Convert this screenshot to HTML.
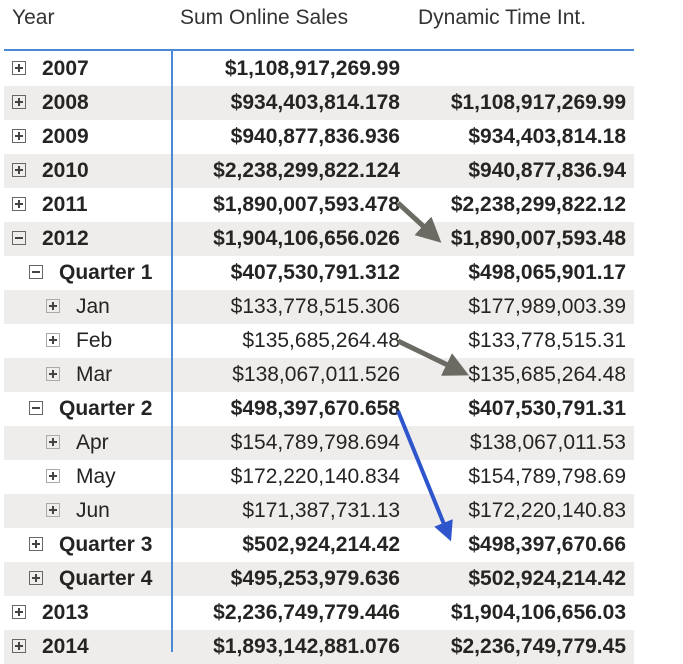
<!DOCTYPE html>
<html><head><meta charset="utf-8"><style>
body{margin:0;width:683px;height:652px;overflow:hidden;background:#fff;font-family:"Liberation Sans",sans-serif;color:#252423;position:relative}
.h{position:absolute;top:6px;font-size:21px;color:#333}
.row{position:absolute;left:4px;width:630px;height:34px}
.row.g{background:#eeedec}
.row div{position:absolute;top:0;line-height:34px;font-size:21px;white-space:nowrap}
.b div{font-weight:bold}
.box{position:absolute;width:14px;height:14px;border:1px solid #666;top:9px;box-sizing:border-box}
.box:before{content:"";position:absolute;left:2px;top:5px;width:8px;height:2px;background:#444}
.box.p:after{content:"";position:absolute;left:5px;top:2px;width:2px;height:8px;background:#444}
.c2{right:234px}.c3{right:8px}
</style></head><body>
<div class="h" style="left:12px">Year</div>
<div class="h" style="left:180px">Sum Online Sales</div>
<div class="h" style="left:418px">Dynamic Time Int.</div>
<div style="position:absolute;left:4px;top:49px;width:630px;height:2px;background:#4a8ad4"></div>
<div id="rows"></div>
<div style="position:absolute;left:171px;top:50px;width:2px;height:602px;background:#4a8ad4"></div>
<svg width="683" height="652" style="position:absolute;left:0;top:0">
<defs>
<marker id="ag" markerWidth="5" markerHeight="5" refX="3" refY="2.5" orient="auto"><path d="M0,0L5,2.5L0,5z" fill="#6b6b63"/></marker>
<marker id="ab" markerWidth="5" markerHeight="5" refX="3" refY="2.5" orient="auto"><path d="M0,0L5,2.5L0,5z" fill="#2e55cc"/></marker>
</defs>
<line x1="398" y1="203" x2="434" y2="236" stroke="#6b6b63" stroke-width="5" marker-end="url(#ag)"/>
<line x1="398" y1="341" x2="460" y2="371" stroke="#6b6b63" stroke-width="5" marker-end="url(#ag)"/>
<line x1="398" y1="411" x2="448" y2="534" stroke="#2e55cc" stroke-width="4" marker-end="url(#ab)"/>
</svg>
<script>
const labels=["2007","2008","2009","2010","2011","2012","Quarter 1","Jan","Feb","Mar","Quarter 2","Apr","May","Jun","Quarter 3","Quarter 4","2013","2014"];
const levels=[0,0,0,0,0,0,1,2,2,2,1,2,2,2,1,1,0,0];
const sales=["$1,108,917,269.99","$934,403,814.178","$940,877,836.936","$2,238,299,822.124","$1,890,007,593.478","$1,904,106,656.026","$407,530,791.312","$133,778,515.306","$135,685,264.48","$138,067,011.526","$498,397,670.658","$154,789,798.694","$172,220,140.834","$171,387,731.13","$502,924,214.42","$495,253,979.636","$2,236,749,779.446","$1,893,142,881.076"];
const dyn=["","$1,108,917,269.99","$934,403,814.18","$940,877,836.94","$2,238,299,822.12","$1,890,007,593.48","$498,065,901.17","$177,989,003.39","$133,778,515.31","$135,685,264.48","$407,530,791.31","$138,067,011.53","$154,789,798.69","$172,220,140.83","$498,397,670.66","$502,924,214.42","$1,904,106,656.03","$2,236,749,779.45"];
const expanded=[5,6,10];
const c=document.getElementById('rows');
labels.forEach((l,i)=>{
 const r=document.createElement('div');
 
 
 r.className='row'+(i%2?' g':'')+(levels[i]<2?' b':'');
 r.style.top=(52+i*34)+'px';
 const lv=levels[i];
 const bx=document.createElement('span');
 
 
 bx.className='box'+(expanded.includes(i)?'':' p');
 bx.style.left=(8+lv*17)+'px';
 if(lv==2)bx.style.borderColor='#aaa';
 r.appendChild(bx);
 const a=document.createElement('div');
 
 
 a.style.left=(38+lv*17)+'px';a.textContent=l;r.appendChild(a);
 const s=document.createElement('div');
 
 
 s.className='c2';s.textContent=sales[i];r.appendChild(s);
 const d=document.createElement('div');
 
 
 d.className='c3';d.textContent=dyn[i];r.appendChild(d);
 c.appendChild(r);
});
</script>
</body></html>
